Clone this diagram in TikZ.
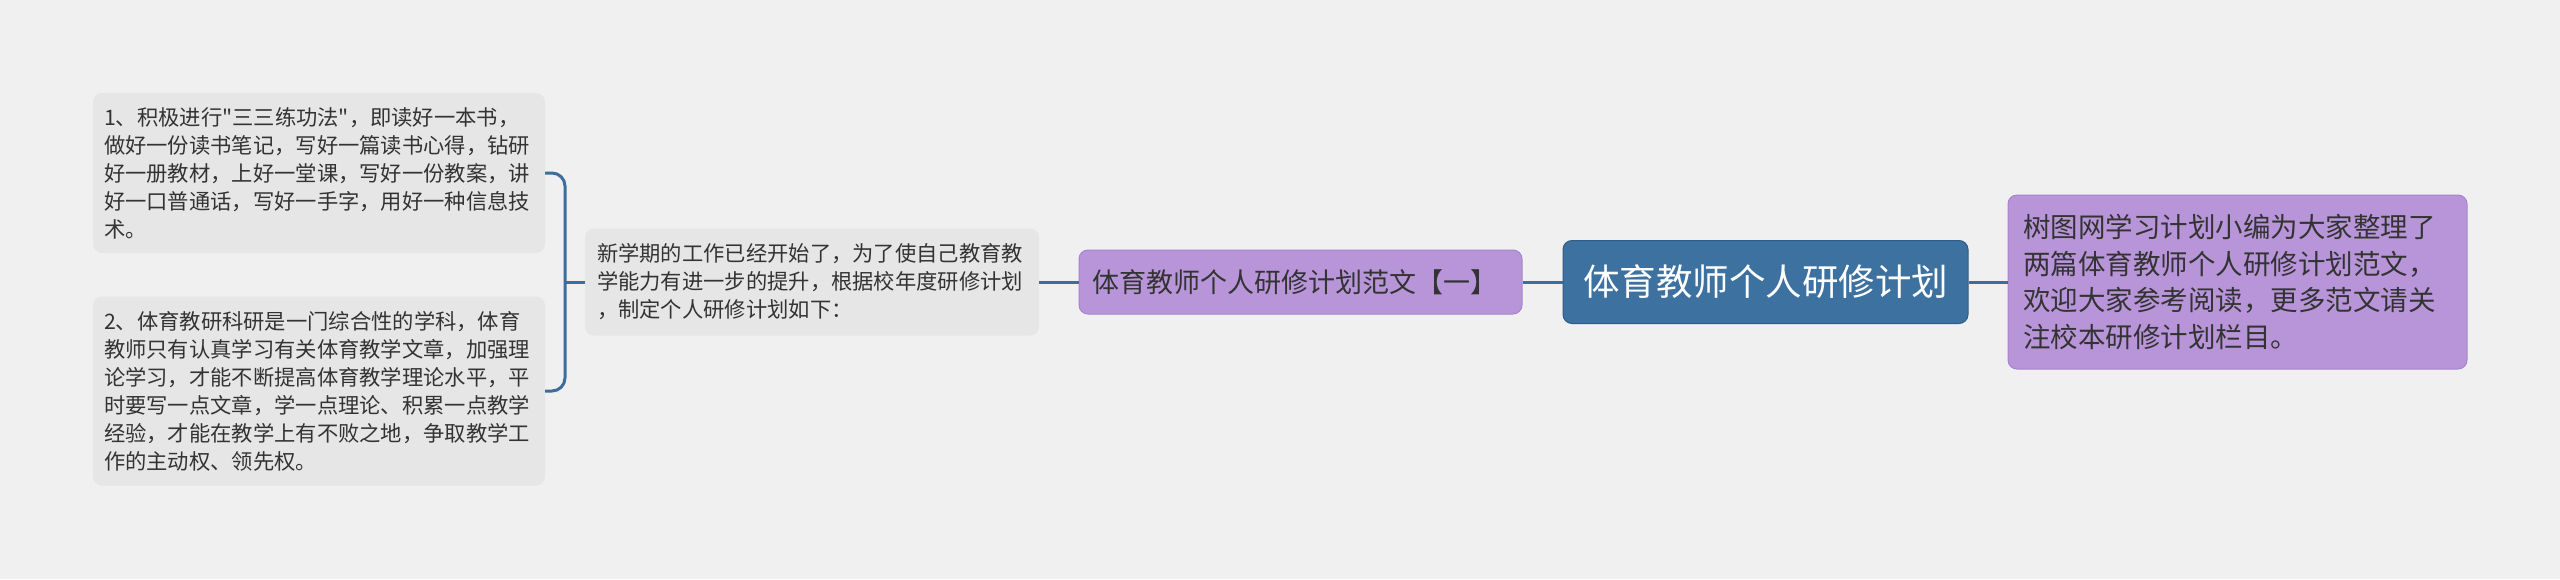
\documentclass[tikz,border=0pt]{standalone}
\usepackage{fontspec}
\setmainfont{Noto Sans CJK SC}[Ligatures=TeXOff]
\definecolor{bgcol}{HTML}{F0F0F0}
\definecolor{lightfill}{HTML}{E6E6E6}
\definecolor{purplefill}{HTML}{B895D9}
\definecolor{purpleline}{HTML}{A584CC}
\definecolor{bluefill}{HTML}{3D71A0}
\definecolor{blueline}{HTML}{2F5C88}
\definecolor{connline}{HTML}{3C6D9C}
\definecolor{txt}{HTML}{333333}
\begin{document}
\begin{tikzpicture}[x=1pt,y=-1pt,
  lightbox/.style={fill=lightfill, rounded corners=9pt, inner sep=0pt, align=left, text=txt,
    font=\fontsize{21.3pt}{28pt}\selectfont},
  purplebox/.style={fill=purplefill, draw=purpleline, line width=1pt, rounded corners=9pt, inner sep=0pt, text=txt},
  centerbox/.style={fill=bluefill, draw=blueline, line width=1pt, rounded corners=9pt, inner sep=0pt, text=white,
    font=\fontsize{36.5pt}{44pt}\selectfont},
  conn/.style={draw=connline, line width=3pt}]
\fill[bgcol] (0,0) rectangle (2560,579);
\useasboundingbox (0,0) rectangle (2560,579);

\node[lightbox, minimum width=452pt, minimum height=160pt, text width=430pt] (box1) at (319,173)
{1、积极进行"三三练功法"，即读好一本书，\\做好一份读书笔记，写好一篇读书心得，钻研\\好一册教材，上好一堂课，写好一份教案，讲\\好一口普通话，写好一手字，用好一种信息技\\术。};

\node[lightbox, minimum width=452pt, minimum height=189pt, text width=430pt] (box2) at (319,391)
{2、体育教研科研是一门综合性的学科，体育\\教师只有认真学习有关体育教学文章，加强理\\论学习，才能不断提高体育教学理论水平，平\\时要写一点文章，学一点理论、积累一点教学\\经验，才能在教学上有不败之地，争取教学工\\作的主动权、领先权。};

\node[lightbox, minimum width=454pt, minimum height=107pt, text width=430pt] (box3) at (812,282)
{新学期的工作已经开始了，为了使自己教育教\\学能力有进一步的提升，根据校年度研修计划\\，制定个人研修计划如下：};

\node[purplebox, minimum width=443pt, minimum height=64pt, text width=417pt, align=left,
  font=\fontsize{27pt}{33pt}\selectfont] (box4) at (1300.5,282)
{体育教师个人研修计划范文【一】};

\node[centerbox, minimum width=405pt, minimum height=83pt] (center) at (1765.5,282)
{体育教师个人研修计划};

\node[purplebox, minimum width=459pt, minimum height=174pt, text width=429pt, align=left,
  font=\fontsize{27.5pt}{36.7pt}\selectfont] (rbox) at (2237.5,282)
{树图网学习计划小编为大家整理了\\两篇体育教师个人研修计划范文，\\欢迎大家参考阅读，更多范文请关\\注校本研修计划栏目。};

\coordinate (jn) at (565,282);
\draw[conn] (center.west) -- (box4.east);
\draw[conn] (center.east) -- (rbox.west);
\draw[conn] (box4.west) -- (box3.east);
\draw[conn] (box3.west) -- (jn);
\draw[conn, rounded corners=13pt] (box1.east) -| (jn) |- (box2.east);
\end{tikzpicture}
\end{document}
